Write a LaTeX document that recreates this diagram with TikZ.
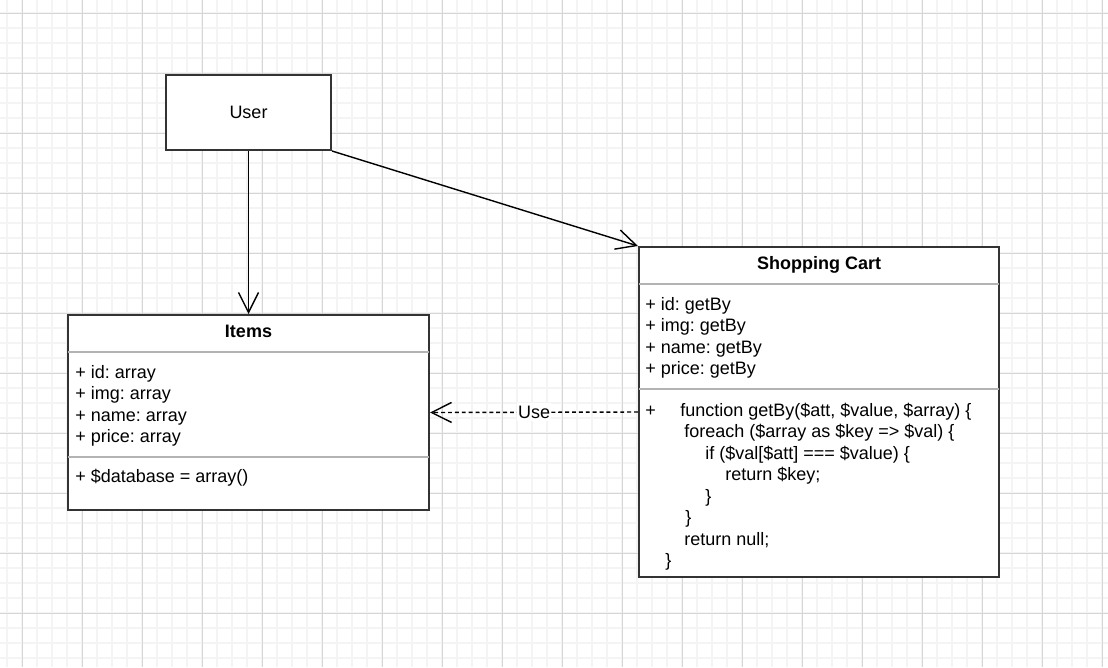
\documentclass[tikz,border=0pt]{standalone}
\usepackage{fontspec}
\setmainfont{Liberation Sans}
\usetikzlibrary{arrows.meta}
\frenchspacing

\definecolor{gridmajor}{HTML}{D6D6D6}
\definecolor{gridminor}{HTML}{F4F4F4}
\definecolor{boxline}{HTML}{333333}
\definecolor{sepgray}{HTML}{B3B3B3}

\tikzset{
  umltext/.style={font=\fontsize{12.8}{15.4}\selectfont, text=black, inner sep=0pt},
  member/.style={umltext, anchor=base west},
  classname/.style={umltext, anchor=base, font=\fontsize{12.8}{15.4}\selectfont\bfseries},
  classbox/.style={draw=boxline, line width=1.4pt, fill=white},
  sepline/.style={draw=sepgray, line width=1pt},
  assoc/.style={draw=black, line width=1pt, -{Straight Barb[length=5mm,width=5mm]}},
  minorgrid/.style={draw=gridminor, line width=1pt},
  majorgrid/.style={draw=gridmajor, line width=0.7pt}
}

\begin{document}
\begin{tikzpicture}[x=0.025cm,y=-0.025cm]
\useasboundingbox (0,0) rectangle (1108,667);
\fill[white] (0,0) rectangle (1108,667);

% background grid
\foreach \gx in {7,22,...,1102} \draw[minorgrid] (\gx,0) -- (\gx,667);
\foreach \gy in {13,28,...,658} \draw[minorgrid] (0,\gy) -- (1108,\gy);
\foreach \gx in {22,82,...,1102} \draw[majorgrid] (\gx,0) -- (\gx,667);
\foreach \gy in {13,73,...,613} \draw[majorgrid] (0,\gy) -- (1108,\gy);

% classes
\node[classbox, umltext, minimum width=4.125cm, minimum height=1.875cm] (user) at (248.5,112.5) {User};
\node[classbox, minimum width=9.025cm, minimum height=4.875cm] (items) at (248.5,412.5) {};
\node[classbox, minimum width=9cm, minimum height=8.25cm] (cart) at (819,412) {};

% Items
\node[classname] (items-name) at (248.5,337) {Items};
\draw[sepline] (68,352) -- (429,352);
\node[member] (items-id) at (75,378) {+ id: array};
\node[member] (items-img) at (75,399.5) {+ img: array};
\node[member] (items-nm) at (75,421) {+ name: array};
\node[member] (items-price) at (75,442.5) {+ price: array};
\draw[sepline] (68,457) -- (429,457);
\node[member] (items-db) at (75,482) {+ \$database = array()};

% Shopping Cart
\node[classname] (cart-name) at (819,269) {Shopping Cart};
\draw[sepline] (639,284) -- (999,284);
\node[member] (cart-id) at (645,310) {+ id: getBy};
\node[member] (cart-img) at (645,331.5) {+ img: getBy};
\node[member] (cart-nm) at (645,353) {+ name: getBy};
\node[member] (cart-price) at (645,374.5) {+ price: getBy};
\draw[sepline] (639,389) -- (999,389);
\node[member] (cart-plus) at (645,416) {+};
\node[member] (cart-fn) at (680,416) {function getBy(\$att, \$value, \$array) \{};
\node[member] (cart-each) at (684,437.5) {foreach (\$array as \$key => \$val) \{};
\node[member] (cart-if) at (705,459) {if (\$val[\$att] === \$value) \{};
\node[member] (cart-ret) at (725,480.5) {return \$key;};
\node[member] (cart-c1) at (705,502) {\}};
\node[member] (cart-c2) at (685,523.5) {\}};
\node[member] (cart-null) at (684,545) {return null;};
\node[member] (cart-c3) at (665,566.5) {\}};

% connectors
\draw[assoc] (user.south) -- (items.north);
\draw[assoc] (user.south east) -- (cart.north west);
\draw[assoc, dash pattern=on 2.8pt off 2.1pt] (cart.west) -- node[umltext, fill=white, inner xsep=1pt, inner ysep=2pt] (use) {Use} (items.east);
\end{tikzpicture}
\end{document}
